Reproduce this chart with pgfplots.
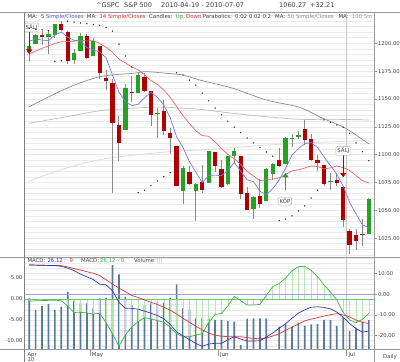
\documentclass[border=0pt]{standalone}
\usepackage{pgfplots}
\pgfplotsset{compat=1.18}
\usepackage{pgfplotstable}
\usepackage{fontspec}
\setmainfont{DejaVu Sans}
\usetikzlibrary{arrows.meta}

\definecolor{upg}{HTML}{22A322}
\definecolor{dnr}{HTML}{B00000}
\definecolor{wick}{HTML}{8A8A8A}
\definecolor{ma5}{HTML}{7A7AE6}
\definecolor{ma14}{HTML}{E86464}
\definecolor{ma50}{HTML}{8C8C8C}
\definecolor{ma100}{HTML}{BDBDBD}
\definecolor{ma200}{HTML}{DADADA}
\definecolor{gridc}{HTML}{EBEBEB}
\definecolor{framec}{HTML}{9A9A9A}
\definecolor{txt}{HTML}{444444}
\definecolor{macdb}{HTML}{3636B4}
\definecolor{macdr}{HTML}{D03C3C}
\definecolor{histg}{HTML}{3CB43C}
\definecolor{histstem}{HTML}{B4E6B4}
\definecolor{volc}{HTML}{5A7A9C}
\definecolor{zerop}{HTML}{9C9CE8}
\definecolor{zerog}{HTML}{6CCB6C}
\definecolor{legblue}{HTML}{5555DD}
\definecolor{legred}{HTML}{DD3333}
\definecolor{leggreen}{HTML}{33AA33}

\newcommand\fs{\fontsize{5.4}{6.4}\selectfont}
\newcommand\ft{\fontsize{5.3}{6.3}\selectfont}
\newcommand\fh{\fontsize{6.6}{7.6}\selectfont}

% ---------- candles (index, open, high, low, close) ----------
\pgfplotstableread{
i o h l c
0 1192.06 1197.87 1183.68 1197.52
1 1199.04 1208.58 1199.04 1207.17
3 1205.94 1210.99 1190.19 1208.67
4 1207.87 1217.28 1205.10 1217.28
7 1184.59 1195.05 1181.81 1191.36
8 1193.30 1209.36 1193.30 1206.78
10 1188.58 1205.13 1188.58 1202.26
15 1122.27 1163.85 1122.27 1159.73
17 1155.43 1172.87 1155.43 1171.67
20 1136.30 1141.88 1114.96 1137.50
24 1067.26 1090.16 1055.90 1087.69
26 1067.42 1074.75 1040.78 1074.03
28 1074.27 1103.52 1074.27 1103.06
31 1073.89 1098.42 1072.94 1098.38
32 1098.82 1105.67 1091.81 1102.83
35 1050.81 1063.15 1042.17 1062.00
37 1058.77 1087.85 1058.77 1086.84
38 1082.65 1092.25 1077.12 1091.60
40 1091.21 1115.59 1091.21 1115.23
41 1114.02 1118.74 1107.13 1115.30
42 1116.16 1121.01 1113.93 1117.51
47 1075.10 1083.11 1067.89 1076.76
53 1028.54 1060.89 1028.54 1060.27
}\up
\pgfplotstableread{
i o h l c
2 1207.16 1210.99 1198.85 1205.94
5 1217.07 1219.80 1211.07 1212.05
6 1209.92 1211.38 1181.62 1183.71
9 1206.77 1207.99 1186.32 1186.69
11 1197.50 1197.50 1168.12 1173.60
12 1169.24 1175.95 1158.15 1165.87
13 1164.38 1167.58 1065.79 1128.15
14 1127.04 1135.13 1094.15 1110.88
16 1156.60 1170.48 1147.71 1155.20
18 1170.04 1173.57 1156.14 1157.44
19 1157.19 1157.19 1126.14 1135.68
21 1138.78 1148.66 1117.20 1120.80
22 1119.57 1124.27 1100.66 1115.05
23 1107.34 1107.34 1071.58 1071.59
25 1084.78 1089.95 1072.70 1073.65
27 1075.51 1090.75 1065.59 1067.95
29 1102.59 1102.59 1084.78 1089.41
30 1087.30 1094.77 1069.89 1070.71
33 1098.43 1098.43 1060.50 1064.88
34 1065.84 1071.36 1049.86 1050.47
36 1062.75 1077.74 1052.25 1055.69
39 1095.00 1105.91 1089.03 1089.63
43 1122.79 1131.23 1108.24 1113.20
44 1113.90 1118.50 1094.18 1095.31
45 1095.57 1099.64 1085.31 1092.04
46 1090.93 1090.93 1071.60 1073.69
48 1077.50 1082.60 1071.45 1074.57
49 1071.10 1071.10 1035.18 1041.24
50 1031.10 1033.58 1010.91 1019.00
51 1027.65 1032.95 1014.34 1022.58
52 1028.60 1042.50 1018.35 1027.40
}\down
% ---------- moving averages ----------
\pgfplotstableread{
i v
0 1201.85
1 1203.83
2 1202.89
3 1202.29
4 1207.32
5 1210.22
6 1205.53
7 1202.61
8 1202.24
9 1196.12
10 1194.16
11 1192.14
12 1187.04
13 1171.31
14 1156.15
15 1147.65
16 1144.08
17 1145.24
18 1151.10
19 1156.06
20 1151.50
21 1144.51
22 1133.18
23 1116.01
24 1106.41
25 1093.76
26 1084.40
27 1074.98
28 1081.28
29 1081.62
30 1081.03
31 1085.90
32 1092.88
33 1085.24
34 1077.45
35 1075.71
36 1067.17
37 1063.98
38 1069.32
39 1077.15
40 1087.80
41 1099.58
42 1105.42
43 1109.74
44 1110.88
45 1106.24
46 1098.06
47 1090.20
48 1082.47
49 1071.66
50 1057.05
51 1046.83
52 1037.09
53 1034.23
}\mafive
\pgfplotstableread{
i v
0 1190.48
1 1192.90
2 1195.51
3 1197.69
4 1199.82
5 1201.44
6 1201.53
7 1201.88
8 1202.77
9 1202.07
10 1202.42
11 1199.77
12 1196.50
13 1191.93
14 1185.74
15 1182.36
16 1178.77
17 1176.13
18 1171.86
19 1166.40
20 1163.06
21 1158.02
22 1151.47
23 1143.25
24 1135.06
25 1127.92
26 1121.36
27 1117.06
28 1116.51
29 1111.48
30 1105.41
31 1100.17
32 1096.27
33 1091.21
34 1085.04
35 1080.84
36 1076.60
37 1077.69
38 1077.96
39 1079.11
40 1082.05
41 1085.38
42 1086.31
43 1088.01
44 1089.77
45 1089.31
46 1087.23
47 1088.08
48 1089.80
49 1088.32
50 1085.70
51 1081.11
52 1076.57
53 1074.47
}\mafourteen
\pgfplotstableread{
i v
0 1143.05
5.83 1159.58
11.01 1170.00
16.2 1173.05
18.29 1174.49
21.4 1173.05
23.99 1171.53
26.59 1167.04
31.78 1159.58
36.98 1149.07
42.17 1142.51
45.79 1132.63
48.91 1125.09
51.0 1117.63
53.0 1109.60
}\mafifty
\pgfplotstableread{
i v
0 1128.14
5.83 1134.07
11.01 1139.46
13.61 1140.72
18.8 1142.51
21.4 1142.51
26.59 1140.72
31.78 1137.12
36.98 1134.07
42.17 1131.73
47.35 1131.73
53.0 1131.11
}\mahundred
\pgfplotstableread{
i v
0 1076.3
6.34 1088.9
12.57 1097.0
21.9 1102.6
26.6 1104.2
34.2 1107.3
42.2 1110.4
53.0 1112.6
}\matwohundred
% ---------- parabolic SAR ----------
\pgfplotstableread{
i v
0 1213.3
1 1212.7
2 1212.1
3 1211.5
4 1183.68
5 1184.35
6 1219.80
7 1219.04
8 1218.29
9 1217.56
10 1216.85
11 1216.16
12 1214.24
13 1210.87
14 1199.26
15 1188.58
16 1178.76
17 1065.79
18 1067.93
19 1072.16
20 1076.22
21 1080.11
22 1083.85
23 1173.57
24 1171.53
25 1166.90
26 1162.46
27 1155.16
28 1148.30
29 1141.85
30 1135.79
31 1130.09
32 1124.73
33 1119.69
34 1114.96
35 1110.51
36 1106.33
37 1102.40
38 1098.70
39 1040.78
40 1042.08
41 1045.02
42 1049.44
43 1054.0
44 1061.0
45 1068.0
46 1131.2
47 1129.0
48 1126.6
49 1124.5
50 1119.2
51 1110.5
52 1102.6
53 1094.5
}\sar
% ---------- MACD (m), signal (s), histogram (h), volume in billions (v) ----------
\pgfplotstableread{
i m s h v
0 14.22 14.22 -0.48 6.34
1 14.17 14.17 -0.43 4.88
2 14.08 14.08 -0.38 5.38
3 14.03 14.03 -0.33 5.63
4 13.98 13.98 -0.29 4.88
5 13.59 13.93 -0.40 5.29
6 12.72 13.30 -1.67 7.16
7 11.55 12.52 -3.21 6.04
8 9.76 11.75 -3.14 5.71
9 8.50 10.97 -3.33 5.71
10 7.18 10.19 -3.57 5.09
11 4.90 9.13 -3.40 6.34
12 4.56 6.99 -5.64 6.41
13 1.70 4.95 -8.33 10.50
14 -3.88 3.01 -11.24 9.34
15 -6.80 1.31 -8.57 6.54
16 -6.84 -0.58 -6.64 5.50
17 -7.18 -1.55 -5.40 4.96
18 -8.16 -2.72 -4.45 5.50
19 -9.17 -3.88 -4.76 5.71
20 -10.29 -4.90 -5.12 5.91
21 -11.84 -6.26 -5.55 5.79
22 -14.61 -7.72 -6.71 6.41
23 -18.25 -9.51 -8.26 8.09
24 -20.10 -11.60 -8.98 5.09
25 -21.99 -13.54 -8.98 4.96
26 -23.83 -15.49 -8.60 3.84
27 -25.29 -17.28 -8.21 3.84
28 -24.13 -18.79 -5.62 3.84
29 -23.79 -19.85 -3.71 3.63
30 -23.74 -20.34 -3.45 3.63
31 -22.09 -20.58 -1.64 3.50
32 -20.63 -20.58 0.62 3.41
33 -21.70 -20.58 -0.38 0.50
34 -22.67 -21.02 -1.43 3.79
35 -22.67 -21.41 -1.43 3.84
36 -22.57 -21.60 -1.29 3.84
37 -20.73 -21.21 0.90 3.84
38 -18.83 -20.24 2.93 0
39 -16.50 -19.17 3.69 2.79
40 -14.27 -17.48 4.98 3.13
41 -11.65 -15.92 6.69 2.79
42 -9.13 -14.47 7.69 3.29
43 -7.52 -12.86 7.79 2.88
44 -6.26 -12.04 6.79 3.09
45 -6.07 -11.36 5.33 3.13
46 -6.36 -10.53 3.31 3.63
47 -7.04 -9.90 1.71 3.63
48 -8.64 -9.37 -0.21 2.88
49 -11.12 -10.05 -3.19 3.96
50 -14.17 -10.97 -5.00 2.25
51 -16.65 -12.52 -5.62 2.66
52 -18.40 -13.59 -4.83 3.41
53 -17.82 -14.17 -3.40 3.63
}\macd

\pgfplotsset{
  panel/.style={scale only axis, width=350bp, xmin=-0.77, xmax=53.85,
    anchor=north west, axis line style={draw=none},
    tick label style={font=\ft, text=txt},
    /pgf/number format/assume math mode=true,
    yticklabel style={/pgf/number format/fixed, /pgf/number format/fixed zerofill,
      /pgf/number format/precision=2, /pgf/number format/1000 sep={}},
    xtick=\empty},
  wickst/.style={draw=none, mark=none, forget plot,
    error bars/.cd, y dir=plus, y explicit, error mark=none,
    error bar style={draw=wick, line width=0.9bp}},
}
\tikzset{lt/.style={anchor=base west, inner sep=0, font=\fs, text=txt}}

\begin{document}
\begin{tikzpicture}
\useasboundingbox (0,0) rectangle (400bp,-362bp);
\fill[white] (0,0) rectangle (400bp,-362bp);

% ================= price panel =================
\begin{axis}[panel, at={(24.3bp,-12bp)}, height=245bp,
  ymin=1008.05, ymax=1228.1,
  ytick={1025,1050,...,1200}, minor ytick={1010,1015,...,1225},
  ymajorgrids, yminorgrids,
  major grid style={draw=gridc, line width=0.5bp},
  minor grid style={draw=gridc, line width=0.5bp},
  ytick pos=right, yticklabel pos=right, tick align=outside,
  major tick length=2.5bp, minor tick length=0bp,
  ytick style={draw=framec, line width=0.5bp},
  yticklabel style={anchor=west, inner sep=1bp},
]
\draw[gridc!85!black, line width=0.5bp] (axis cs:49.5,1008.05) -- (axis cs:49.5,1228.1);
\addplot[ma200, line width=0.7bp, smooth] table[x=i,y=v] {\matwohundred};
\addplot[ma100, line width=0.7bp, smooth] table[x=i,y=v] {\mahundred};
\addplot[ma50, line width=0.7bp, smooth] table[x=i,y=v] {\mafifty};
% wicks
\addplot[wickst] table[x=i, y=l, y error expr=\thisrow{h}-\thisrow{l}] {\up};
\addplot[wickst] table[x=i, y=l, y error expr=\thisrow{h}-\thisrow{l}] {\down};
% bodies
\addplot[draw=none, mark=none, error bars/.cd, y dir=plus, y explicit, error mark=none,
  error bar style={draw=upg, line width=4.3bp}]
  table[x=i, y=o, y error expr=\thisrow{c}-\thisrow{o}] {\up};
\addplot[draw=none, mark=none, error bars/.cd, y dir=plus, y explicit, error mark=none,
  error bar style={draw=dnr, line width=4.3bp}]
  table[x=i, y=c, y error expr=\thisrow{o}-\thisrow{c}] {\down};
% moving averages
\addplot[ma14, line width=0.7bp] table[x=i,y=v] {\mafourteen};
\addplot[ma5, line width=0.7bp] table[x=i,y=v] {\mafive};
% parabolic SAR
\addplot[only marks, mark=*, mark size=0.45bp, draw=black!80, fill=black!80] table[x=i,y=v] {\sar};
% signals
\node[draw=gray!60, fill=white, rounded corners=1.2bp, inner sep=1.4bp, font=\fs, text=txt]
  at (axis cs:0.35,1214.2) {SÄLJ};
\draw[dnr, line width=1.2bp, -{Triangle[width=6bp,length=4.5bp]}] (axis cs:0,1210.3) -- (axis cs:0,1190.4);
\draw[upg, line width=1.2bp, -{Triangle[width=6bp,length=4.5bp]}] (axis cs:40,1067.8) -- (axis cs:40,1083.5);
\node[draw=gray!60, fill=white, rounded corners=1.2bp, inner sep=1.4bp, font=\fs, text=txt]
  at (axis cs:39.9,1058.2) {KÖP};
\draw[dnr, line width=1.2bp, -{Triangle[width=6bp,length=4.5bp]}] (axis cs:49,1099.7) -- (axis cs:49,1079.6);
\node[draw=gray!60, fill=white, rounded corners=1.2bp, inner sep=1.4bp, font=\fs, text=txt]
  at (axis cs:49,1103.4) {SÄLJ};
\end{axis}

% ================= MACD panel: grid + right axis =================
\begin{axis}[panel, at={(24.3bp,-257bp)}, height=92bp,
  ymin=-26.55, ymax=18.11,
  ytick={-20,-10,0,10}, minor ytick={-25,-22.5,...,17.5},
  ymajorgrids, yminorgrids,
  major grid style={draw=gridc, line width=0.5bp},
  minor grid style={draw=gridc, line width=0.5bp},
  ytick pos=right, yticklabel pos=right, tick align=outside,
  major tick length=2.5bp, minor tick length=0bp,
  ytick style={draw=framec, line width=0.5bp},
  yticklabel style={anchor=west, inner sep=1bp},
]
\draw[gridc!85!black, line width=0.5bp] (axis cs:49.5,-26.55) -- (axis cs:49.5,18.11);
\end{axis}
% volume
\begin{axis}[panel, at={(24.3bp,-257bp)}, height=92bp, ymin=0, ymax=11.5, hide axis]
\addplot[ybar, bar width=1.7bp, fill=volc, draw=none] table[x=i,y=v] {\macd};
\end{axis}
% histogram (left axis)
\begin{axis}[panel, at={(24.3bp,-257bp)}, height=92bp, ymin=-11.905, ymax=10,
  ytick={-10,-5,0,5}, ytick pos=left, yticklabel pos=left, ytick style={draw=none},
  yticklabel style={anchor=east, inner sep=1.5bp}]
\addplot[ycomb, histstem, line width=0.6bp, mark=none] table[x=i,y=h] {\macd};
\addplot[zerog, line width=0.6bp] coordinates {(-0.77,0) (53.85,0)};
\addplot[histg, line width=0.7bp] table[x=i,y=h] {\macd};
\end{axis}
% MACD lines (right axis)
\begin{axis}[panel, at={(24.3bp,-257bp)}, height=92bp, ymin=-26.55, ymax=18.11, hide axis, clip=false]
\addplot[zerop, line width=0.7bp] coordinates {(-0.77,0) (53.85,0)};
\addplot[macdr, line width=0.7bp] table[x=i,y=s] {\macd};
\addplot[macdb, line width=0.7bp] table[x=i,y=m] {\macd};
\end{axis}

% ================= frame =================
\draw[framec, line width=0.5bp] (0,-12bp) -- (400bp,-12bp);
\draw[framec, line width=0.5bp] (0,-257bp) -- (400bp,-257bp);
\draw[framec, line width=0.5bp] (0,-349.5bp) -- (400bp,-349.5bp);
\draw[gray, line width=0.7bp] (24.3bp,-12bp) -- (24.3bp,-362bp);
\draw[framec, line width=0.6bp] (374.3bp,-12bp) -- (374.3bp,-362bp);
\foreach \xx in {90.2,218.4,346.7} \draw[framec, line width=0.5bp] (\xx bp,-349.5bp) -- (\xx bp,-356bp);

% ================= texts =================
\begin{scope}[every node/.style={anchor=base west, inner sep=0, font=\fh, text=txt}]
\node at (96bp,-7.3bp) {\textasciicircum GSPC};
\node at (124bp,-7.3bp) {S\&P 500};
\node at (161bp,-7.3bp) {2010-04-19 - 2010-07-07};
\node at (279bp,-7.3bp) {1060.27};
\node at (310bp,-7.3bp) {+32.21};
\end{scope}

% top legend, segments at measured positions
\node[lt] at (27.3bp,-18.3bp) {MA:};
\node[lt, text=legblue] at (40.7bp,-18.3bp) {5 Simple/Closes};
\node[lt] at (86.7bp,-18.3bp) {MA:};
\node[lt, text=legred] at (99.3bp,-18.3bp) {14 Simple/Closes};
\node[lt] at (149bp,-18.3bp) {Candles:};
\node[lt, text=leggreen] at (175.7bp,-18.3bp) {Up,};
\node[lt, text=legred] at (186bp,-18.3bp) {Down};
\node[lt] at (202.7bp,-18.3bp) {Parabolics:};
\node[lt] at (235bp,-18.3bp) {0.02 0.02 0.2};
\node[lt] at (275bp,-18.3bp) {MA:};
\node[lt, text=ma50] at (287.3bp,-18.3bp) {50 Simple/Closes};
\node[lt] at (338.3bp,-18.3bp) {MA:};
\node[lt, text=ma100!80!black] at (351.7bp,-18.3bp) {100 Sin};

% MACD legend
\node[lt] at (27.3bp,-262.5bp) {MACD:};
\node[lt, text=macdb] at (47.3bp,-262.5bp) {26,12};
\node[lt] at (64bp,-262.5bp) {:};
\node[lt, text=macdr] at (69.5bp,-262.5bp) {9};
\node[lt] at (81bp,-262.5bp) {MACD:};
\node[lt, text=histg] at (100bp,-262.5bp) {26,12 - 9};
\node[lt] at (134bp,-262.5bp) {Volume:};
\node[lt, text=volc!50] at (156.7bp,-262.5bp) {|||};

\node[lt] at (27.3bp,-356bp) {Apr};
\node[lt] at (27.3bp,-361.5bp) {10};
\node[lt] at (91.7bp,-356bp) {May};
\node[lt] at (220bp,-356bp) {Jun};
\node[lt] at (348.3bp,-356bp) {Jul};
\node[lt] at (383bp,-358bp) {Daily};
\end{tikzpicture}
\end{document}
